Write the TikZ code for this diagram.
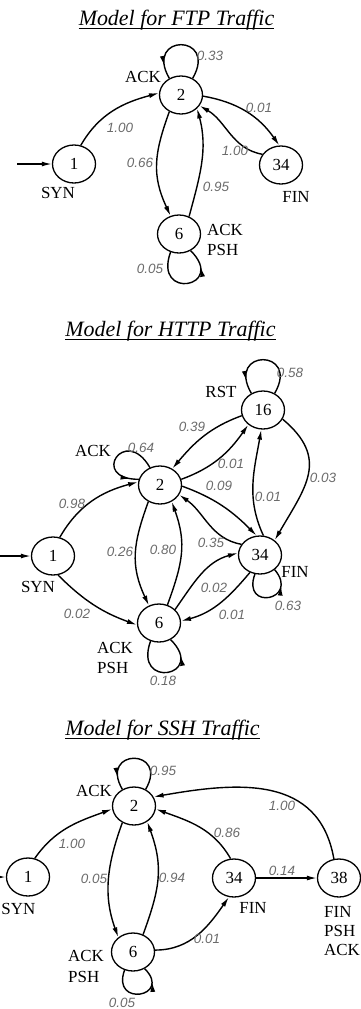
\documentclass[tikz,border=0pt]{standalone}
\usepackage{fontspec}
\setmainfont{Liberation Serif}
\newfontfamily\problabfont{Liberation Sans}
\usetikzlibrary{shapes.geometric,arrows.meta,decorations.markings}
\tikzset{
  stnode/.style={ellipse, draw, line width=1.3bp, minimum width=43bp, minimum height=38bp, inner sep=0pt, fill=white, font=\fontsize{17}{20}\selectfont},
  tagtext/.style={inner sep=0pt, font=\fontsize{17}{20}\selectfont},
  prob/.style={inner sep=0pt, text=black!58, font=\problabfont\itshape\fontsize{13.5}{16}\selectfont},
  ttl/.style={inner sep=0pt, anchor=base, font=\itshape\fontsize{22}{26}\selectfont},
  conn/.style={line width=1.4bp, -{Latex[length=10bp,width=5bp]}},
  loopconn/.style={line width=1.4bp, postaction={decorate}, decoration={markings, mark=at position #1 with {\arrow{Latex[length=10bp,width=5bp]}}}},
  uline/.style={line width=1bp},
}
\begin{document}
\begin{tikzpicture}[x=1bp,y=1bp]
\useasboundingbox (0,0) rectangle (360,-1009);
% ===== FTP =====
\node[ttl] (tf) at (176.5,-25) {Model for FTP Traffic};
\draw[uline] ([yshift=-3bp]tf.base west) -- ([yshift=-3bp]tf.base east);
\node[stnode] (f2) at (181,-95) {2};
\node[stnode] (f1) at (74,-164) {1};
\node[stnode] (f34) at (281,-165) {34};
\node[stnode] (f6) at (179,-234) {6};
\coordinate (fstart) at (17,-164);
\draw[conn] (fstart) -- (f1.west);
\draw[conn] (f1.70) to[out=60,in=195] (f2.175);
\draw[conn] (f2.-3) to[out=-10,in=125] (f34.95);
\draw[conn] (f34.150) to[out=170,in=-30] (f2.-30);
\draw[conn] (f2.-125) to[out=-110,in=115,looseness=1.1] (f6.115);
\draw[conn] (f6.60) to[out=75,in=-75] (f2.-40);
\draw[loopconn=0.85] (f2.55) to[out=60,in=120,distance=52] (f2.125);
\draw[loopconn=0.78] (f6.-115) to[out=-110,in=-45,distance=52] (f6.-55);
\node[tagtext] (fl1) at (143,-77) {ACK};
\node[tagtext] (fl2) at (58,-193) {SYN};
\node[tagtext] (fl3) at (296,-197) {FIN};
\node[tagtext,anchor=west] (fl4) at (207,-230) {ACK};
\node[tagtext,anchor=west] (fl5) at (207,-250) {PSH};
\node[prob] (fp1) at (210,-56) {0.33};
\node[prob] (fp2) at (120,-128) {1.00};
\node[prob] (fp3) at (259,-108) {0.01};
\node[prob] (fp4) at (235,-151) {1.00};
\node[prob] (fp5) at (140,-163) {0.66};
\node[prob] (fp6) at (216,-187) {0.95};
\node[prob] (fp7) at (150,-269) {0.05};
% ===== HTTP =====
\node[ttl] (th) at (170.5,-336) {Model for HTTP Traffic};
\draw[uline] ([yshift=-3bp]th.base west) -- ([yshift=-3bp]th.base east);
\node[stnode] (h16) at (263,-410) {16};
\node[stnode] (h2) at (160,-485) {2};
\node[stnode] (h1) at (53,-556) {1};
\node[stnode] (h34) at (260,-555) {34};
\node[stnode] (h6) at (159,-623) {6};
\coordinate (hstart) at (-2,-556);
\draw[conn] (hstart) -- (h1.west);
\draw[conn] (h1.70) to[out=60,in=195] (h2.172);
\draw[conn] (h1.-75) to[out=-45,in=160] (h6.185);
\draw[conn] (h2.-125) to[out=-110,in=115,looseness=1.1] (h6.120);
\draw[conn] (h6.65) to[out=70,in=-70,looseness=1.1] (h2.-55);
\draw[conn] (h2.15) to[out=20,in=-125] (h16.-135);
\draw[conn] (h16.195) to[out=200,in=50] (h2.53);
\draw[conn] (h2.-3) to[out=-20,in=135] (h34.100);
\draw[conn] (h34.150) to[out=170,in=-35] (h2.-27);
\draw[conn] (h34.80) to[out=115,in=-100] (h16.-95);
\draw[conn] (h16.-25) to[out=-40,in=60,looseness=1.3] (h34.45);
\draw[conn] (h6.40) to[out=55,in=195] (h34.175);
\draw[conn] (h34.-120) to[out=-130,in=15] (h6.5);
\draw[loopconn=0.9] (h2.120) to[out=120,in=180,distance=50] (h2.165);
\draw[loopconn=0.85] (h16.55) to[out=60,in=120,distance=52] (h16.125);
\draw[loopconn=0.75] (h34.-105) to[out=-110,in=-50,distance=40] (h34.-45);
\draw[loopconn=0.78] (h6.-115) to[out=-110,in=-45,distance=52] (h6.-55);
\node[tagtext] (hl1) at (221,-392) {RST};
\node[tagtext] (hl2) at (93,-451) {ACK};
\node[tagtext] (hl3) at (38,-587) {SYN};
\node[tagtext] (hl4) at (295,-572) {FIN};
\node[tagtext,anchor=west] (hl5) at (97,-648) {ACK};
\node[tagtext,anchor=west] (hl6) at (97,-668) {PSH};
\node[prob] (hp1) at (290,-373) {0.58};
\node[prob] (hp2) at (192,-427) {0.39};
\node[prob] (hp3) at (141,-448) {0.64};
\node[prob] (hp4) at (231,-464) {0.01};
\node[prob] (hp5) at (219,-486) {0.09};
\node[prob] (hp6) at (323,-478) {0.03};
\node[prob] (hp7) at (268,-497) {0.01};
\node[prob] (hp8) at (72,-504) {0.98};
\node[prob] (hp9) at (120,-552) {0.26};
\node[prob] (hp10) at (163,-550) {0.80};
\node[prob] (hp11) at (211,-543) {0.35};
\node[prob] (hp12) at (214,-588) {0.02};
\node[prob] (hp13) at (288,-606) {0.63};
\node[prob] (hp14) at (232,-615) {0.01};
\node[prob] (hp15) at (77,-614) {0.02};
\node[prob] (hp16) at (163,-681) {0.18};
% ===== SSH =====
\node[ttl] (ts) at (162.5,-735) {Model for SSH Traffic};
\draw[uline] ([yshift=-3bp]ts.base west) -- ([yshift=-3bp]ts.base east);
\node[stnode] (s2) at (134,-806) {2};
\node[stnode] (s1) at (28,-877) {1};
\node[stnode] (s34) at (234,-878) {34};
\node[stnode] (s38) at (339,-878) {38};
\node[stnode] (s6) at (133,-952) {6};
\coordinate (sstart) at (-25,-877);
\draw[conn] (sstart) -- (s1.west);
\draw[conn] (s1.70) to[out=55,in=200] (s2.188);
\draw[conn] (s2.-125) to[out=-110,in=110] (s6.135);
\draw[conn] (s6.60) to[out=70,in=-70,looseness=1.1] (s2.-50);
\draw[conn] (s34.100) to[out=120,in=-20] (s2.-8);
\draw[conn] (s38.105) to[out=100,in=10,looseness=1.15] (s2.25);
\draw[conn] (s34.east) -- (s38.west);
\draw[conn] (s6.5) to[out=0,in=-125] (s34.-105);
\draw[loopconn=0.85] (s2.55) to[out=60,in=120,distance=48] (s2.125);
\draw[loopconn=0.78] (s6.-115) to[out=-110,in=-45,distance=40] (s6.-55);
\node[tagtext] (sl1) at (94,-791) {ACK};
\node[tagtext,anchor=east] (sl2) at (35.5,-909) {SYN};
\node[tagtext] (sl3) at (253,-908) {FIN};
\node[tagtext,anchor=west] (sl4) at (324,-912) {FIN};
\node[tagtext,anchor=west] (sl5) at (324,-931) {PSH};
\node[tagtext,anchor=west] (sl6) at (324,-950) {ACK};
\node[tagtext,anchor=west] (sl7) at (68,-956) {ACK};
\node[tagtext,anchor=west] (sl8) at (68,-977) {PSH};
\node[prob] (sp1) at (163,-771) {0.95};
\node[prob] (sp2) at (72,-844) {1.00};
\node[prob] (sp3) at (94,-879) {0.05};
\node[prob] (sp4) at (172,-878) {0.94};
\node[prob] (sp5) at (227,-833) {0.86};
\node[prob] (sp6) at (282,-806) {1.00};
\node[prob] (sp7) at (282,-871) {0.14};
\node[prob] (sp8) at (207,-939) {0.01};
\node[prob] (sp9) at (122,-1002.5) {0.05};
\end{tikzpicture}
\end{document}
